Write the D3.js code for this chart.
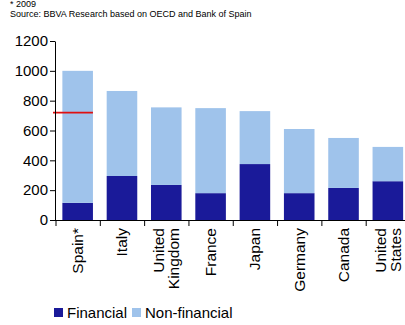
<!DOCTYPE html>
<html>
<head>
<meta charset="utf-8">
<script src="https://cdn.jsdelivr.net/npm/d3@7/dist/d3.min.js"></script>
<style>
  html, body { margin: 0; padding: 0; background: #fff; }
  svg { display: block; font-family: Arial, "Liberation Sans", sans-serif; }
</style>
</head>
<body>
<svg id="chart" width="405" height="325"></svg>
<script>
// Debt by sector, % of GDP
const countries = ["Spain*", "Italy", "United\nKingdom", "France", "Japan", "Germany", "Canada", "United\nStates"];
const financial = [115, 295, 235, 180, 375, 180, 215, 260];
const nonFinancial = [885, 570, 520, 570, 355, 430, 335, 230];
const yTicks = [0, 200, 400, 600, 800, 1000, 1200];
const seriesNames = ["Financial", "Non-financial"];
const seriesColors = ["#1a1a99", "#9fc3eb"];
const markerValue = 720; // reference level marked on Spain's bar

const svg = d3.select("#chart");

const rows = countries.map((c, i) => ({ country: c, Financial: financial[i], "Non-financial": nonFinancial[i] }));
const stack = d3.stack().keys(seriesNames)(rows);

const x = d3.scaleBand().domain(countries).range([55.5, 410]).paddingInner(0.31).paddingOuter(0.155);
const y = d3.scaleLinear().domain([0, 1200]).range([220, 41]);

// notes above the plot
svg.append("text").attr("x", 10).attr("y", 7).attr("font-size", 9).attr("fill", "#000").text("* 2009");
svg.append("text").attr("x", 10).attr("y", 16.5).attr("font-size", 9).attr("fill", "#000")
  .text("Source: BBVA Research based on OECD and Bank of Spain");

// bars
svg.append("g").selectAll("g").data(stack).join("g")
  .attr("fill", (d, i) => seriesColors[i])
  .selectAll("rect").data(d => d).join("rect")
  .attr("x", d => x(d.data.country))
  .attr("width", x.bandwidth())
  .attr("y", d => y(d[1]))
  .attr("height", d => y(d[0]) - y(d[1]));

// marker line across Spain's bar
svg.append("line")
  .attr("x1", 53).attr("x2", x(countries[0]) + x.bandwidth())
  .attr("y1", y(markerValue)).attr("y2", y(markerValue))
  .attr("stroke", "#e01010").attr("stroke-width", 1.6);

// y axis
const yAxis = svg.append("g").attr("transform", "translate(55,0)")
  .call(d3.axisLeft(y).tickValues(yTicks).tickFormat(d3.format("d")).tickSize(5).tickPadding(2).tickSizeOuter(0));
yAxis.selectAll("text").attr("font-size", 15).attr("fill", "#000").attr("font-family", "Arial, 'Liberation Sans', sans-serif");
yAxis.selectAll("line, path").attr("stroke", "#000");

// x axis baseline and category dividers
const xg = svg.append("g");
xg.append("line").attr("x1", 55).attr("x2", 405).attr("y1", 220.5).attr("y2", 220.5).attr("stroke", "#000");
const step = x.step();
xg.selectAll("line.div").data(countries).join("line").attr("class", "div")
  .attr("x1", d => x(d) - step * x.paddingInner() / 2 + 0.5)
  .attr("x2", d => x(d) - step * x.paddingInner() / 2 + 0.5)
  .attr("y1", 220).attr("y2", 226).attr("stroke", "#000");

// rotated category labels
const labels = xg.selectAll("text.lab").data(countries).join("text").attr("class", "lab")
  .attr("font-size", 15.5).attr("fill", "#000").attr("text-anchor", "end")
  .attr("transform", d => {
    const lines = d.split("\n").length;
    const cx = x(d) + x.bandwidth() / 2 - (lines - 1) * 7.5;
    return `translate(${cx},228) rotate(-90)`;
  });
labels.each(function(d) {
  const lines = d.split("\n");
  d3.select(this).selectAll("tspan").data(lines).join("tspan")
    .attr("x", 0).attr("dy", (l, i) => i === 0 ? "0.35em" : "15px").text(l => l);
});

// legend
const legend = svg.append("g");
const legendX = [54, 132];
seriesNames.forEach((name, i) => {
  legend.append("rect").attr("x", legendX[i]).attr("y", 308).attr("width", 9).attr("height", 9).attr("fill", seriesColors[i]);
  legend.append("text").attr("x", legendX[i] + 13).attr("y", 318).attr("font-size", 15).attr("fill", "#000").text(name);
});
</script>
</body>
</html>
